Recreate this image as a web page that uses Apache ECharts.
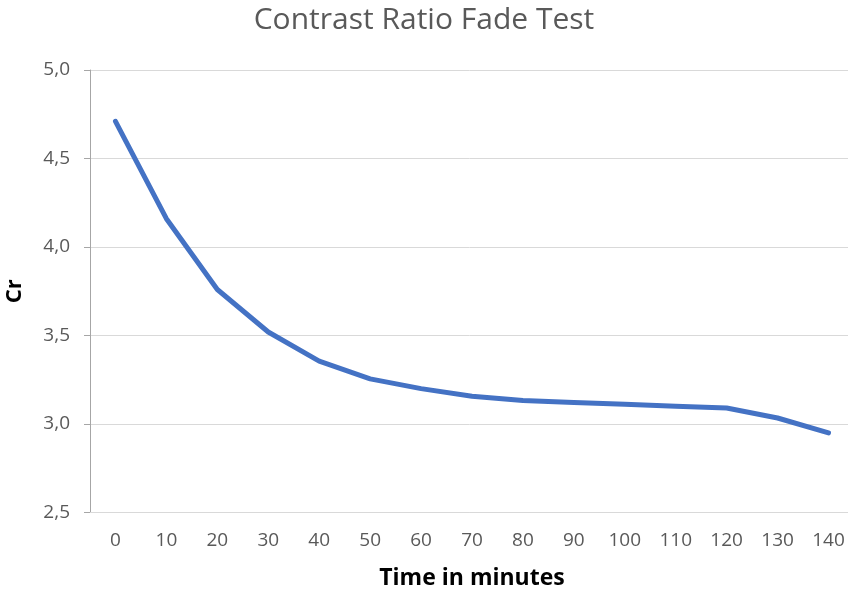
<!DOCTYPE html>
<html>
<head>
<meta charset="utf-8">
<script src="https://cdn.jsdelivr.net/npm/echarts@6/dist/echarts.min.js"></script>
<style>
html,body{margin:0;padding:0;background:#fff;}
#chart{width:848px;height:592px;}
</style>
</head>
<body>
<div id="chart"></div>
<script>
var categories = ['0','10','20','30','40','50','60','70','80','90','100','110','120','130','140'];
var crValues = [4.71, 4.16, 3.76, 3.52, 3.355, 3.255, 3.20, 3.157, 3.133, 3.121, 3.111, 3.10, 3.09, 3.034, 2.95];
var titleText = 'Contrast Ratio Fade Test';
var xName = 'Time in minutes';
var yName = 'Cr';

var chart = echarts.init(document.getElementById('chart'));
chart.setOption({
  animation: false,
  backgroundColor: '#fff',
  title: {
    text: titleText,
    left: 'center',
    top: 0,
    textStyle: {fontFamily: 'Open Sans', fontWeight: 'normal', fontSize: 30, color: '#595959'}
  },
  grid: {left: 90, top: 70, width: 764, height: 442.5, containLabel: false, outerBoundsMode: 'none'},
  xAxis: {
    type: 'category',
    data: categories,
    boundaryGap: true,
    name: xName,
    nameLocation: 'middle',
    nameGap: 54,
    nameTextStyle: {fontFamily: 'Open Sans', fontWeight: 'bold', fontSize: 23, color: '#000'},
    axisLine: {show: true, lineStyle: {color: '#d9d9d9', width: 1}},
    axisTick: {show: false},
    axisLabel: {margin: 19, fontFamily: 'Open Sans', fontSize: 19, color: '#595959'}
  },
  yAxis: {
    type: 'value',
    min: 2.5,
    max: 5,
    interval: 0.5,
    name: yName,
    nameLocation: 'middle',
    nameGap: 64,
    nameTextStyle: {fontFamily: 'Open Sans', fontWeight: 'bold', fontSize: 22, color: '#000'},
    axisLine: {show: true, lineStyle: {color: '#a6a6a6', width: 1}},
    axisTick: {show: true, length: 6, lineStyle: {color: '#a6a6a6'}},
    axisLabel: {
      margin: 20, fontFamily: 'Open Sans', fontSize: 19, color: '#595959',
      formatter: function (v) { return v.toFixed(1).replace('.', ','); }
    },
    splitLine: {show: true, lineStyle: {color: '#d9d9d9', width: 1}}
  },
  series: [{
    type: 'line',
    data: crValues,
    symbol: 'none',
    smooth: false,
    lineStyle: {color: '#4472C4', width: 5, cap: 'round', join: 'round'}
  }]
});
</script>
</body>
</html>
